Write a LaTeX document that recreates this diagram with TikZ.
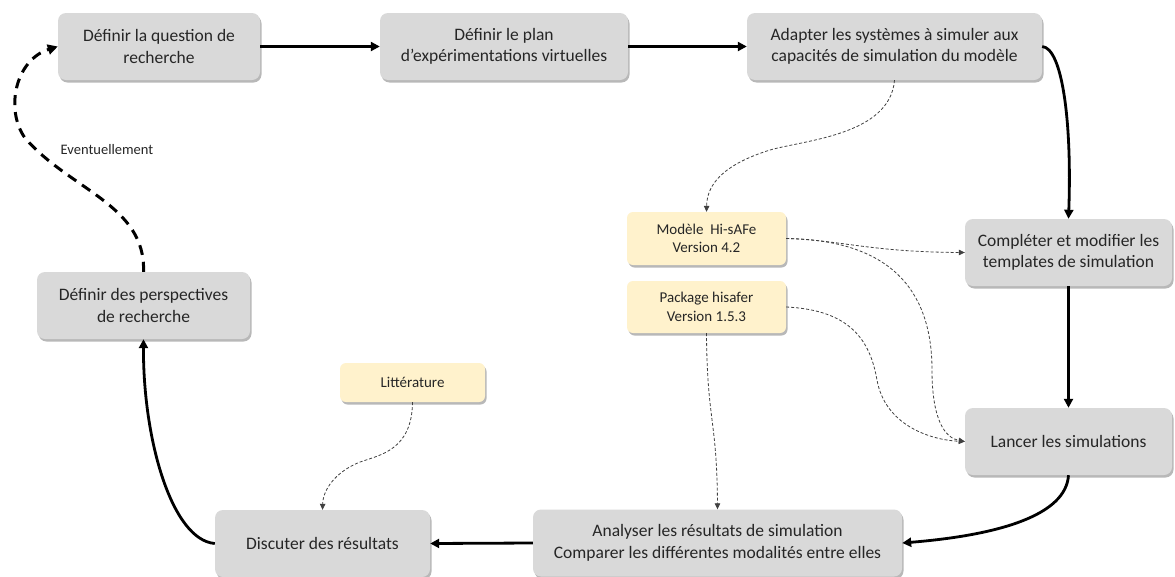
\documentclass[tikz,border=0pt]{standalone}
\usepackage{fontspec}
\setmainfont{Carlito}
\usetikzlibrary{arrows.meta,shadows}
\definecolor{boxgray}{HTML}{D9D9D9}
\definecolor{boxyellow}{HTML}{FFF2CC}
\begin{document}
\begin{tikzpicture}[x=1pt,y=-1pt,
  basebox/.style={draw=none, rounded corners=8pt, text=black!85, align=center, inner sep=0pt,
    drop shadow={shadow xshift=1.5pt, shadow yshift=-2.5pt, fill=black, opacity=0.28}},
  graybox/.style={basebox, fill=boxgray, minimum height=67pt, font=\fontsize{17.5}{21.5}\selectfont},
  yelbox/.style={basebox, fill=boxyellow, rounded corners=6pt, font=\fontsize{15}{18.5}\selectfont},
  thickarrow/.style={line width=2.8pt, draw=black, -{Triangle[length=9pt,width=9pt]}},
  thinarrow/.style={line width=0.8pt, draw=black!75, dash pattern=on 3pt off 2pt, -{Triangle[length=6pt,width=5.5pt]}},
  bigdash/.style={line width=3pt, draw=black, dash pattern=on 10pt off 7pt, -{Triangle[length=10pt,width=10pt]}}
]
\fill[white] (0,0) rectangle (1175,576);
\useasboundingbox (0,0) rectangle (1175,576);

\node[graybox, minimum width=202pt] (b1) at (159,46.5) {Définir la question de\\recherche};
\node[graybox, minimum width=248pt] (b2) at (504,46.5) {Définir le plan\\d’expérimentations virtuelles};
\node[graybox, minimum width=295pt] (b3) at (894.5,46.5) {Adapter les systèmes à simuler aux\\capacités de simulation du modèle};
\node[graybox, minimum width=207pt] (b4) at (1068.5,252.5) {Compléter et modifier les\\templates de simulation};
\node[graybox, minimum width=207pt] (b5) at (1068.5,441.5) {Lancer les simulations};
\node[graybox, minimum width=369pt] (b6) at (717.5,543) {Analyser les résultats de simulation\\Comparer les différentes modalités entre elles};
\node[graybox, minimum width=215pt] (b7) at (322.5,543.5) {Discuter des résultats};
\node[graybox, minimum width=213pt] (b8) at (143.5,305.5) {Définir des perspectives\\de recherche};

\node[yelbox, minimum width=159pt, minimum height=53pt] (mod) at (706.5,238.5) {Modèle\ \ Hi-sAFe\\Version 4.2};
\node[yelbox, minimum width=159pt, minimum height=52pt] (pkg) at (706.5,307) {Package hisafer\\Version 1.5.3};
\node[yelbox, minimum width=145pt, minimum height=39pt] (lit) at (412.5,382.5) {Littérature};

\node[font=\fontsize{14.5}{17}\selectfont, text=black!85, inner sep=0pt] (ev) at (107,150) {Eventuellement};

% main flow
\draw[thickarrow] (b1.east) -- (b2.west);
\draw[thickarrow] (b2.east) -- (b3.west);
\draw[thickarrow] (b3.east) .. controls (1062,48) and (1072,120) .. (b4.north);
\draw[thickarrow] (b4.south) -- (b5.north);
\draw[thickarrow] (b5.south) .. controls (1066,515) and (1000,535) .. (b6.east);
\draw[thickarrow] (b6.west) -- (b7.east);
\draw[thickarrow] (b7.west) .. controls (172,540) and (143,440) .. (b8.south);
\draw[bigdash] (b8.north) .. controls (146,205) and (70,190) .. (25,138) .. controls (5,110) and (15,60) .. (b1.west);

% thin dashed links
\draw[thinarrow] (b3.south) .. controls (890,135) and (805,140) .. (770,150) .. controls (722,165) and (707,185) .. (mod.north);
\draw[thinarrow] (mod.east) .. controls (840,240) and (870,252) .. (b4.west);
\draw[thinarrow] (mod.east) .. controls (900,240) and (932,300) .. (932,370) .. controls (932,420) and (945,438) .. (b5.west);
\draw[thinarrow] (pkg.east) .. controls (850,310) and (870,340) .. (877,380) .. controls (885,425) and (930,440) .. (b5.west);
\draw[thinarrow] (pkg.south) .. controls (707,420) and (717,420) .. (b6.north);
\draw[thinarrow] (lit.south) .. controls (412,450) and (380,455) .. (360,462) .. controls (335,472) and (323,490) .. (b7.north);
\end{tikzpicture}
\end{document}
